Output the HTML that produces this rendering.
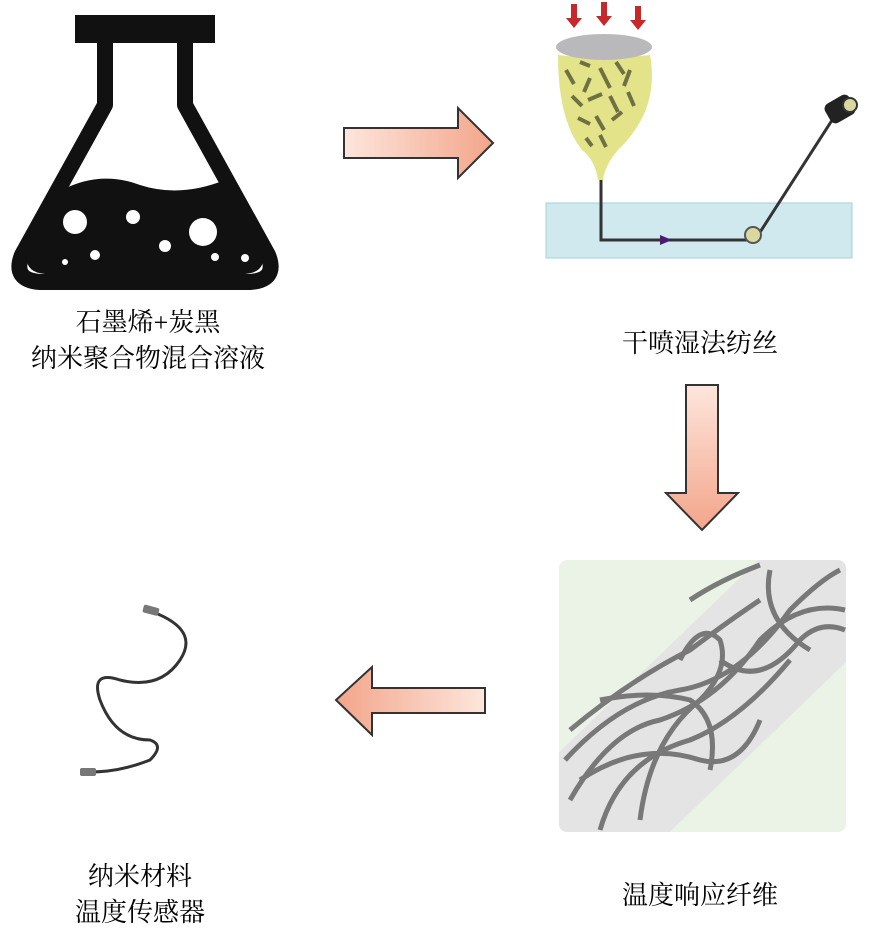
<!DOCTYPE html>
<html><head><meta charset="utf-8"><style>
body{margin:0;background:#fff;width:870px;height:938px;overflow:hidden}
svg{display:block}
text{font-family:"Liberation Serif","Noto Serif CJK SC",serif;font-size:26px;fill:#000;text-anchor:middle}
</style></head><body>
<svg width="870" height="938" viewBox="0 0 870 938">
<defs>
<linearGradient id="ar" x1="0" y1="0" x2="1" y2="0"><stop offset="0" stop-color="#fde6dc"/><stop offset="1" stop-color="#f3a58a"/></linearGradient>
<linearGradient id="ad" x1="0" y1="0" x2="0" y2="1"><stop offset="0" stop-color="#fde6dc"/><stop offset="1" stop-color="#f3a58a"/></linearGradient>
<linearGradient id="al" x1="1" y1="0" x2="0" y2="0"><stop offset="0" stop-color="#fde6dc"/><stop offset="1" stop-color="#f3a58a"/></linearGradient>
<clipPath id="fc"><rect x="559" y="560" width="287" height="272" rx="8"/></clipPath>
</defs>
<!-- flask -->
<rect x="75" y="15" width="140" height="28" fill="#111"/>
<path d="M105 43 V105 L22 255 Q12 280 40 282 H250 Q278 280 268 255 L185 105 V43" fill="none" stroke="#111" stroke-width="16" stroke-linejoin="round"/>
<path d="M62 190 Q100 170 140 185 Q180 198 225 180 L262 250 Q268 272 245 274 H45 Q22 272 28 250 Z" fill="#111"/>
<circle cx="75" cy="222" r="12" fill="#fff"/><circle cx="203" cy="232" r="14" fill="#fff"/>
<circle cx="133" cy="217" r="7" fill="#fff"/><circle cx="165" cy="246" r="6" fill="#fff"/>
<circle cx="95" cy="255" r="5" fill="#fff"/><circle cx="215" cy="257" r="4" fill="#fff"/><circle cx="245" cy="258" r="4" fill="#fff"/><circle cx="65" cy="262" r="3" fill="#fff"/>
<text x="148" y="331">石墨烯+炭黑</text>
<text x="148" y="367">纳米聚合物混合溶液</text>
<!-- right arrow -->
<path d="M344 128 H458 V108 L493 143 L458 178 V158 H344 Z" fill="url(#ar)" stroke="#333" stroke-width="2"/>
<!-- spinning -->
<rect x="546" y="203" width="306" height="55" fill="#cfe9ee" stroke="#a9cfd6"/>
<g fill="#c8282a"><rect x="571" y="4" width="6" height="14"/><path d="M566 18h16l-8 10z"/><rect x="601" y="2" width="6" height="14"/><path d="M596 16h16l-8 10z"/><rect x="635" y="6" width="6" height="14"/><path d="M630 20h16l-8 10z"/></g>
<path d="M558 55 Q600 60 650 55 Q660 110 618 150 Q605 165 603 180 L598 180 Q595 160 582 150 Q558 120 558 55Z" fill="#e3e48a"/>
<ellipse cx="604" cy="47" rx="48" ry="13" fill="#b9b9bb"/>
<g stroke="#4a4a2a" stroke-width="4" opacity=".75"><path d="M566 70l8 14M580 62l10 4M590 78l-6 14M600 68l10 20M616 62l8 12M630 70l-6 16M572 96l10 10M588 100l14 -6M610 96l8 16M628 92l6 14M578 118l12 6M596 116l8 14M612 120l10 -8M600 135l6 12M586 138l6 8"/></g>
<path d="M601 180 V240 H755 L845 100" fill="none" stroke="#333" stroke-width="3"/>
<path d="M660 235 L672 240 L660 245Z" fill="#4b1c6e"/>
<circle cx="753" cy="235" r="8" fill="#d9d8a0" stroke="#555" stroke-width="2"/>
<rect x="826" y="98" width="28" height="22" rx="6" fill="#222" transform="rotate(-30 840 109)"/>
<circle cx="850" cy="105" r="7" fill="#d9d8a0" stroke="#333" stroke-width="2"/>
<text x="700" y="352">干喷湿法纺丝</text>
<!-- down arrow -->
<path d="M686 385 H718 V493 H738 L702 530 L666 493 H686 Z" fill="url(#ad)" stroke="#333" stroke-width="2"/>
<!-- fiber -->
<g clip-path="url(#fc)">
<rect x="559" y="560" width="287" height="272" fill="#eaf3e6"/>
<path d="M520 790 L800 520 L900 520 L900 610 L620 880 L520 880Z" fill="#e4e4e4"/>
<g fill="none" stroke="#666" stroke-width="5" opacity=".85">
<path d="M565 760 Q620 700 680 690 Q740 680 790 610 Q820 580 840 570"/>
<path d="M570 800 Q610 730 660 720 Q720 700 760 640 Q800 600 845 610"/>
<path d="M600 830 Q620 760 690 740 Q740 720 790 660"/>
<path d="M570 730 Q630 680 690 650 Q730 620 760 600"/>
<path d="M640 820 Q650 740 700 700 Q730 670 720 640 Q700 620 680 660"/>
<path d="M770 570 Q760 620 810 650"/>
<path d="M720 660 Q760 690 800 640 Q820 620 845 630"/>
<path d="M580 780 Q640 740 700 760 Q740 770 760 720"/>
<path d="M600 700 Q650 690 690 700 Q720 720 710 770"/>
<path d="M690 600 Q720 580 760 565"/>
</g>
</g>
<text x="700" y="904">温度响应纤维</text>
<!-- left arrow -->
<path d="M485 688 H372 V667 L336 700 L372 735 V713 H485 Z" fill="url(#al)" stroke="#333" stroke-width="2"/>
<!-- sensor -->
<path d="M153 612 Q200 630 180 660 Q160 690 120 680 Q90 670 100 700 Q115 740 150 740 Q165 745 150 760 Q120 772 90 772" fill="none" stroke="#333" stroke-width="3"/>
<rect x="143" y="606" width="16" height="8" rx="2" fill="#777" transform="rotate(15 150 610)"/>
<rect x="80" y="768" width="16" height="8" rx="2" fill="#777"/>
<text x="140" y="885">纳米材料</text>
<text x="140" y="921">温度传感器</text>
</svg>
</body></html>
